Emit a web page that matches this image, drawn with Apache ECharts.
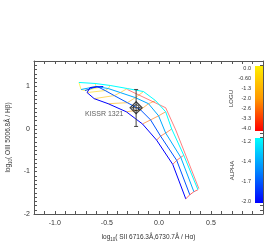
<!DOCTYPE html>
<html>
<head>
<meta charset="utf-8">
<script src="https://cdn.jsdelivr.net/npm/echarts@6/dist/echarts.min.js"></script>
<style>html,body{margin:0;padding:0;background:#fff}#c{width:275px;height:242px}</style>
</head>
<body>
<div id="c"></div>
<script>
// ---- data ----
var ALPHA = [-1.2, -1.47, -1.73, -2.0];
var LOGU = [0.0, -0.3, -0.6, -1.0, -1.4, -2.0, -2.6, -3.0, -3.4, -4.0];
var curveAlpha12 = [[-0.768,1.095],[-0.613,1.071],[-0.468,1.024],[-0.303,0.952],[-0.148,0.881],[-0.032,0.667],[0.065,0.405],[0.123,0.0],[0.239,-0.619],[0.375,-1.429]];
var curveAlpha147 = [[-0.748,0.929],[-0.603,1.0],[-0.487,0.952],[-0.371,0.857],[-0.226,0.738],[-0.1,0.595],[-0.003,0.31],[0.065,-0.095],[0.21,-0.667],[0.336,-1.476]];
var curveAlpha173 = [[-0.71,0.905],[-0.593,1.0],[-0.516,0.905],[-0.429,0.786],[-0.303,0.619],[-0.177,0.452],[-0.08,0.214],[0.016,-0.167],[0.171,-0.738],[0.297,-1.548]];
var curveAlpha20 = [[-0.535,1.0],[-0.661,0.976],[-0.69,0.857],[-0.622,0.714],[-0.487,0.595],[-0.313,0.405],[-0.158,0.119],[-0.022,-0.262],[0.133,-0.833],[0.258,-1.643]];
var edgeLine = [[-0.303,0.929],[0.065,0.5],[0.162,-0.024],[0.258,-0.619],[0.384,-1.405]];
var obsName = 'KISSR 1321';
var obsPoint = [-0.219, 0.5];
var obsErrX = [-0.264, -0.174];
var obsErrY = [0.06, 0.93];
var xTickLabels = [-1.0, -0.5, 0.0, 0.5];
var yTickLabels = [1, 0, -1, -2];
var loguBarTicks = [0, -0.6667, -1.3333, -2.0, -2.6667, -3.3333, -4.0];
var loguBarLabels = ['0.0', '-0.60', '-1.3', '-2.0', '-2.6', '-3.3', '-4.0'];
var alphaBarTicks = [-1.2, -1.4667, -1.7333, -2.0];
var alphaBarLabels = ['-1.2', '-1.4', '-1.7', '-2.0'];

// ---- colours ----
function lerp(a, b, t) { return Math.round(a + (b - a) * t); }
function loguColor(u, op) {
  var t = -u / 4; var r, g, b;
  if (t < 0.5) { var s = t / 0.5; r = 255; g = lerp(235, 150, s); b = 0; }
  else { var s2 = (t - 0.5) / 0.5; r = 255; g = lerp(150, 0, s2); b = 0; }
  return 'rgba(' + r + ',' + g + ',' + b + ',' + op + ')';
}
function alphaColor(a) {
  var t = (-1.2 - a) / 0.8;
  return 'rgb(0,' + lerp(255, 0, t) + ',255)';
}
var FONT = 'Liberation Sans, Arial, sans-serif';
var TXT = '#333';
var AX = '#555';

var curves = [curveAlpha12, curveAlpha147, curveAlpha173, curveAlpha20];
var series = [];
LOGU.forEach(function (u, i) {
  series.push({
    type: 'line', xAxisIndex: 0, yAxisIndex: 0, symbol: 'none', silent: true,
    data: curves.map(function (c) { return c[i]; }),
    lineStyle: { width: 1, color: loguColor(u, 0.6) }, z: 2
  });
});
series.push({
  type: 'line', xAxisIndex: 0, yAxisIndex: 0, symbol: 'none', silent: true,
  data: edgeLine, lineStyle: { width: 1, color: loguColor(-4, 0.5) }, z: 2
});
curves.forEach(function (c, k) {
  series.push({
    type: 'line', xAxisIndex: 0, yAxisIndex: 0, symbol: 'none', silent: true,
    data: c, lineStyle: { width: 1, color: alphaColor(ALPHA[k]) }, z: 3
  });
});
series.push({
  type: 'custom', xAxisIndex: 0, yAxisIndex: 0, z: 5,
  data: [[obsPoint[0], obsPoint[1], obsErrX[0], obsErrX[1], obsErrY[0], obsErrY[1]]],
  renderItem: function (params, api) {
    var x = api.value(0), y = api.value(1);
    var p0 = api.coord([x, api.value(4)]), p1 = api.coord([x, api.value(5)]);
    var q0 = api.coord([api.value(2), y]), q1 = api.coord([api.value(3), y]);
    var st = { stroke: '#444', lineWidth: 1 };
    return { type: 'group', children: [
      { type: 'line', shape: { x1: p0[0], y1: p0[1], x2: p1[0], y2: p1[1] }, style: st },
      { type: 'line', shape: { x1: p0[0] - 2, y1: p0[1], x2: p0[0] + 2, y2: p0[1] }, style: st },
      { type: 'line', shape: { x1: p1[0] - 2, y1: p1[1], x2: p1[0] + 2, y2: p1[1] }, style: st },
      { type: 'line', shape: { x1: q0[0], y1: q0[1], x2: q1[0], y2: q1[1] }, style: st }
    ] };
  }
});
series.push({
  type: 'scatter', xAxisIndex: 0, yAxisIndex: 0, z: 6,
  data: [{ value: obsPoint, name: obsName }],
  symbol: 'diamond', symbolSize: 12,
  itemStyle: { color: 'rgba(255,255,255,0)', borderColor: '#111', borderWidth: 1.2 },
  label: { show: true, formatter: obsName, position: 'left', distance: 6, offset: [0, 6],
    fontSize: 7, fontFamily: FONT, color: TXT }
});
series.push({
  type: 'scatter', xAxisIndex: 0, yAxisIndex: 0, z: 6, silent: true,
  data: [obsPoint], symbol: 'circle', symbolSize: 6,
  itemStyle: { color: 'rgba(255,255,255,0)', borderColor: '#111', borderWidth: 1 }
});
function barSeries(xi, yi, lo, hi, c0, c1) {
  return {
    type: 'custom', xAxisIndex: xi, yAxisIndex: yi, silent: true,
    data: [[0, lo, hi]],
    renderItem: function (params, api) {
      var a = api.coord([0, api.value(2)]), b = api.coord([0, api.value(1)]);
      var w = api.size([1, 0])[0];
      return { type: 'rect', shape: { x: a[0] - w / 2, y: a[1], width: w, height: b[1] - a[1] },
        style: { fill: new echarts.graphic.LinearGradient(0, 0, 0, 1, [{ offset: 0, color: c0[0] }, { offset: 0.5, color: c0[1] }, { offset: 1, color: c1 }]) } };
    }
  };
}
series.push(barSeries(2, 2, -4.2, 0.2, ['#ffee00', '#ff9900'], '#ff0000'));
series.push(barSeries(3, 3, -2.015, -1.147, ['#00ffff', '#0088ff'], '#0000ff'));

function near(v, arr) { for (var i = 0; i < arr.length; i++) if (Math.abs(v - arr[i]) < 1e-6) return i; return -1; }

var mainX = { type: 'value', gridIndex: 0, min: -1.2, max: 1.0, interval: 0.1,
  axisLine: { show: true, onZero: false, lineStyle: { color: AX, width: 1 } },
  axisTick: { show: true, inside: true, length: 3, lineStyle: { color: AX } },
  splitLine: { show: false } };
var mainY = { type: 'value', gridIndex: 0, min: -2.0, max: 1.6, interval: 0.1,
  axisLine: { show: true, onZero: false, lineStyle: { color: AX, width: 1 } },
  axisTick: { show: true, inside: true, length: 3, lineStyle: { color: AX } },
  splitLine: { show: false } };

var option = {
  animation: false,
  backgroundColor: '#fff',
  grid: [
    { left: 34, top: 61, right: 12, bottom: 28, outerBoundsMode: 'none', containLabel: false },
    { left: 34, top: 61, right: 12, bottom: 28, outerBoundsMode: 'none', containLabel: false },
    { left: 255, top: 66, width: 8, height: 65, outerBoundsMode: 'none', containLabel: false },
    { left: 255, top: 138, width: 8, height: 65, outerBoundsMode: 'none', containLabel: false }
  ],
  xAxis: [
    Object.assign({}, mainX, {
      position: 'bottom',
      name: '{a|log}{s|10}{a|( SII 6716.3Å,6730.7Å / Hα)}', nameLocation: 'middle', nameGap: 19,
      nameTextStyle: { rich: { a: { fontSize: 6.5, fontFamily: FONT, color: TXT }, s: { fontSize: 4.5, fontFamily: FONT, color: TXT, verticalAlign: 'bottom', padding: [4, 0, 0, 0] } } },
      axisLabel: { show: true, margin: 6, fontSize: 7, fontFamily: FONT, color: TXT,
        formatter: function (v) { var i = near(v, xTickLabels); return i < 0 ? '' : xTickLabels[i].toFixed(1); } }
    }),
    Object.assign({}, mainX, { gridIndex: 1, position: 'top', axisLabel: { show: false } }),
    { type: 'category', gridIndex: 2, data: ['c'], show: false },
    { type: 'category', gridIndex: 3, data: ['c'], show: false }
  ],
  yAxis: [
    Object.assign({}, mainY, {
      position: 'left',
      name: '{a|log}{s|10}{a|( OIII 5006.8Å / Hβ)}', nameLocation: 'middle', nameGap: 16, nameRotate: 90,
      nameTextStyle: { rich: { a: { fontSize: 6.5, fontFamily: FONT, color: TXT }, s: { fontSize: 4.5, fontFamily: FONT, color: TXT, verticalAlign: 'bottom', padding: [4, 0, 0, 0] } } },
      axisLabel: { show: true, margin: 4, fontSize: 7, fontFamily: FONT, color: TXT,
        formatter: function (v) { var i = near(v, yTickLabels); return i < 0 ? '' : String(yTickLabels[i]); } }
    }),
    Object.assign({}, mainY, { gridIndex: 1, position: 'right', axisLabel: { show: false } }),
    { type: 'value', gridIndex: 2, min: -4.2, max: 0.2, position: 'left',
      axisLine: { show: false, onZero: false }, axisTick: { show: false }, splitLine: { show: false },
      name: 'LOGU', nameLocation: 'middle', nameRotate: 90, nameGap: 21,
      nameTextStyle: { fontSize: 6, fontFamily: FONT, color: TXT },
      axisLabel: { show: true, customValues: loguBarTicks, margin: 4, fontSize: 5.5, fontFamily: FONT, color: TXT,
        formatter: function (v) { var i = near(v, loguBarTicks); return i < 0 ? '' : loguBarLabels[i]; } } },
    { type: 'value', gridIndex: 3, min: -2.015, max: -1.147, position: 'left',
      axisLine: { show: false, onZero: false }, axisTick: { show: false }, splitLine: { show: false },
      name: 'ALPHA', nameLocation: 'middle', nameRotate: 90, nameGap: 20,
      nameTextStyle: { fontSize: 6, fontFamily: FONT, color: TXT },
      axisLabel: { show: true, customValues: alphaBarTicks, margin: 4, fontSize: 5.5, fontFamily: FONT, color: TXT,
        formatter: function (v) { var i = near(v, alphaBarTicks); return i < 0 ? '' : alphaBarLabels[i]; } } }
  ],
  series: series
};
var chart = echarts.init(document.getElementById('c'), null, { renderer: 'canvas' });
chart.setOption(option);
</script>
</body>
</html>
